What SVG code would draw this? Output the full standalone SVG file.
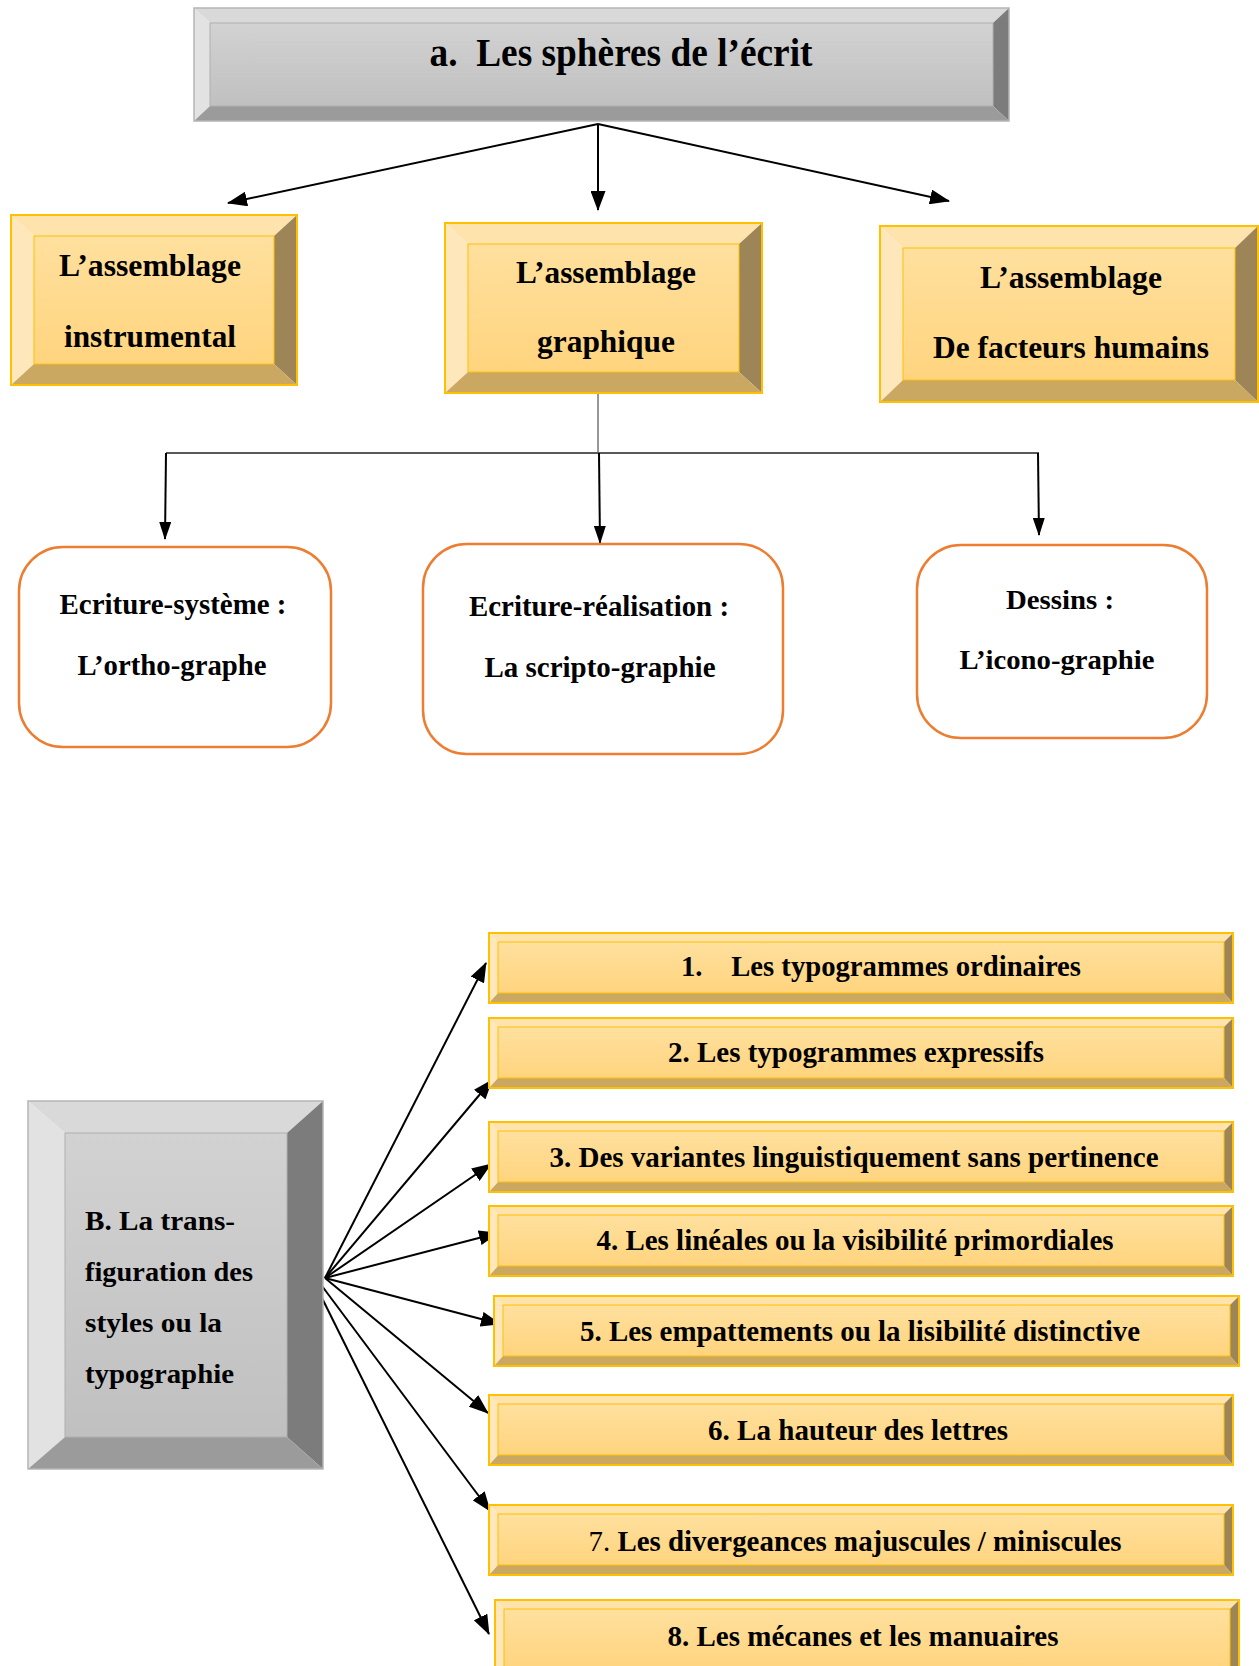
<svg xmlns="http://www.w3.org/2000/svg" width="1259" height="1666" viewBox="0 0 1259 1666">
<style>
text{font-family:"Liberation Serif","Times New Roman",serif;font-weight:bold;fill:#000}
.t{text-anchor:middle}
.gface{fill:url(#gGold);stroke:#FFC000;stroke-width:1}
.gtop{fill:#FFE3AC}
.gleft{fill:#FFE7BC}
.gright{fill:#9E8557}
.gbot{fill:#CBA861}
.gout{fill:none;stroke:#FFC000;stroke-width:2}
.sface{fill:url(#gGray);stroke:#B0B0B0;stroke-width:1}
.stop{fill:#D9D9D9}
.sleft{fill:#E2E2E2}
.sright{fill:#7C7C7C}
.sbot{fill:#9B9B9B}
.sout{fill:none;stroke:#B5B5B5;stroke-width:1.5}
.rb{fill:#fff;stroke:#ED7D31;stroke-width:2.5}
.ar{stroke:#000;stroke-width:2;fill:none;marker-end:url(#ah)}
.arv{stroke:#000;stroke-width:2;fill:none;marker-end:url(#ahv)}
</style>
<defs>
<linearGradient id="gGold" x1="0" y1="0" x2="0" y2="1"><stop offset="0" stop-color="#FFE09E"/><stop offset="1" stop-color="#FFD47E"/></linearGradient>
<linearGradient id="gGray" x1="0" y1="0" x2="0" y2="1"><stop offset="0" stop-color="#D2D2D2"/><stop offset="1" stop-color="#C0C0C0"/></linearGradient>
<marker id="ah" markerUnits="userSpaceOnUse" markerWidth="20" markerHeight="15" refX="19" refY="7.5" orient="auto"><path d="M0,0 L20,7.5 L0,15 Z" fill="#000"/></marker>
<marker id="ahv" markerUnits="userSpaceOnUse" markerWidth="18" markerHeight="12" refX="17" refY="6" orient="auto"><path d="M0,0 L18,6 L0,12 Z" fill="#000"/></marker>
</defs>

<g id="connectors">
<line class="ar" x1="598" y1="124" x2="228" y2="203"/>
<line class="ar" x1="598" y1="124" x2="598" y2="210"/>
<line class="ar" x1="598" y1="124" x2="949" y2="201"/>
<line x1="598" y1="393" x2="598" y2="453" stroke="#333" stroke-width="1"/>
<line x1="166" y1="453" x2="1039" y2="453" stroke="#595959" stroke-width="2"/>
<line class="arv" x1="166" y1="453" x2="165" y2="539"/>
<line class="arv" x1="599" y1="453" x2="600" y2="543"/>
<line class="arv" x1="1038" y1="453" x2="1039" y2="535"/>
<line class="ar" x1="325" y1="1278" x2="486" y2="963"/>
<line class="ar" x1="325" y1="1278" x2="492" y2="1080"/>
<line class="ar" x1="325" y1="1278" x2="491" y2="1164"/>
<line class="ar" x1="325" y1="1278" x2="498" y2="1233"/>
<line class="ar" x1="325" y1="1278" x2="500" y2="1324"/>
<line class="ar" x1="325" y1="1278" x2="488" y2="1413"/>
<line class="ar" x1="322" y1="1286" x2="490" y2="1511"/>
<line class="ar" x1="318" y1="1290" x2="489" y2="1634"/>
</g>

<g id="title">
<polygon class="stop" points="194,8 1009,8 993,23 210,23"/>
<polygon class="sleft" points="194,8 210,23 210,106 194,121"/>
<polygon class="sright" points="1009,8 1009,121 993,106 993,23"/>
<polygon class="sbot" points="194,121 210,106 993,106 1009,121"/>
<rect class="sface" x="210" y="23" width="783" height="83"/>
<rect class="sout" x="194" y="8" width="815" height="113"/>
<text class="t" x="621" y="66" font-size="40" textLength="383" lengthAdjust="spacingAndGlyphs">a.&#160; Les sphères de l’écrit</text>
</g>

<g id="box-instrumental">
<polygon class="gtop" points="11,215 297,215 274,236 34,236"/>
<polygon class="gleft" points="11,215 34,236 34,364 11,385"/>
<polygon class="gright" points="297,215 297,385 274,364 274,236"/>
<polygon class="gbot" points="11,385 34,364 274,364 297,385"/>
<rect class="gface" x="34" y="236" width="240" height="128"/>
<rect class="gout" x="11" y="215" width="286" height="170"/>
<text class="t" x="150" y="276" font-size="31" textLength="182" lengthAdjust="spacingAndGlyphs">L’assemblage</text>
<text class="t" x="150" y="347" font-size="31" textLength="172" lengthAdjust="spacingAndGlyphs">instrumental</text>
</g>

<g id="box-graphique">
<polygon class="gtop" points="445,223 762,223 739,244 468,244"/>
<polygon class="gleft" points="445,223 468,244 468,372 445,393"/>
<polygon class="gright" points="762,223 762,393 739,372 739,244"/>
<polygon class="gbot" points="445,393 468,372 739,372 762,393"/>
<rect class="gface" x="468" y="244" width="271" height="128"/>
<rect class="gout" x="445" y="223" width="317" height="170"/>
<text class="t" x="606" y="283" font-size="31" textLength="180" lengthAdjust="spacingAndGlyphs">L’assemblage</text>
<text class="t" x="606" y="352" font-size="31" textLength="138" lengthAdjust="spacingAndGlyphs">graphique</text>
</g>

<g id="box-humains">
<polygon class="gtop" points="880,226 1258,226 1235,248 903,248"/>
<polygon class="gleft" points="880,226 903,248 903,380 880,402"/>
<polygon class="gright" points="1258,226 1258,402 1235,380 1235,248"/>
<polygon class="gbot" points="880,402 903,380 1235,380 1258,402"/>
<rect class="gface" x="903" y="248" width="332" height="132"/>
<rect class="gout" x="880" y="226" width="378" height="176"/>
<text class="t" x="1071" y="288" font-size="31" textLength="182" lengthAdjust="spacingAndGlyphs">L’assemblage</text>
<text class="t" x="1071" y="358" font-size="31" textLength="276" lengthAdjust="spacingAndGlyphs">De facteurs humains</text>
</g>

<g id="box-orthographe">
<rect class="rb" x="19" y="547" width="312" height="200" rx="44" ry="44"/>
<text class="t" x="173" y="614" font-size="29" textLength="227" lengthAdjust="spacingAndGlyphs">Ecriture-système :</text>
<text class="t" x="172" y="675" font-size="29" textLength="189" lengthAdjust="spacingAndGlyphs">L’ortho-graphe</text>
</g>

<g id="box-scriptographie">
<rect class="rb" x="423" y="544" width="360" height="210" rx="44" ry="44"/>
<text class="t" x="599" y="616" font-size="29" textLength="260" lengthAdjust="spacingAndGlyphs">Ecriture-réalisation :</text>
<text class="t" x="600" y="677" font-size="29" textLength="231" lengthAdjust="spacingAndGlyphs">La scripto-graphie</text>
</g>

<g id="box-iconographie">
<rect class="rb" x="917" y="545" width="290" height="193" rx="44" ry="44"/>
<text class="t" x="1060" y="609" font-size="28" textLength="108" lengthAdjust="spacingAndGlyphs">Dessins :</text>
<text class="t" x="1057" y="669" font-size="28" textLength="195" lengthAdjust="spacingAndGlyphs">L’icono-graphie</text>
</g>

<g id="box-typographie">
<polygon class="stop" points="28,1101 323,1101 287,1133 65,1133"/>
<polygon class="sleft" points="28,1101 65,1133 65,1437 28,1469"/>
<polygon class="sright" points="323,1101 323,1469 287,1437 287,1133"/>
<polygon class="sbot" points="28,1469 65,1437 287,1437 323,1469"/>
<rect class="sface" x="65" y="1133" width="222" height="304"/>
<rect class="sout" x="28" y="1101" width="295" height="368"/>
<text x="85" y="1230" font-size="28" textLength="150" lengthAdjust="spacingAndGlyphs">B. La trans-</text>
<text x="85" y="1281" font-size="28" textLength="168" lengthAdjust="spacingAndGlyphs">figuration des</text>
<text x="85" y="1332" font-size="28" textLength="137" lengthAdjust="spacingAndGlyphs">styles ou la</text>
<text x="85" y="1383" font-size="28" textLength="149" lengthAdjust="spacingAndGlyphs">typographie</text>
</g>

<g id="item-1">
<polygon class="gtop" points="489,933 1233,933 1224,942 498,942"/>
<polygon class="gleft" points="489,933 498,942 498,993 489,1003"/>
<polygon class="gright" points="1233,933 1233,1003 1224,993 1224,942"/>
<polygon class="gbot" points="489,1003 498,993 1224,993 1233,1003"/>
<rect class="gface" x="498" y="942" width="726" height="51"/>
<rect class="gout" x="489" y="933" width="744" height="70"/>
<text class="t" x="881" y="976" font-size="30" textLength="400" lengthAdjust="spacingAndGlyphs">1.&#160;&#160;&#160; Les typogrammes ordinaires</text>
</g>

<g id="item-2">
<polygon class="gtop" points="489,1018 1233,1018 1224,1027 498,1027"/>
<polygon class="gleft" points="489,1018 498,1027 498,1078 489,1088"/>
<polygon class="gright" points="1233,1018 1233,1088 1224,1078 1224,1027"/>
<polygon class="gbot" points="489,1088 498,1078 1224,1078 1233,1088"/>
<rect class="gface" x="498" y="1027" width="726" height="51"/>
<rect class="gout" x="489" y="1018" width="744" height="70"/>
<text class="t" x="856" y="1062" font-size="30" textLength="376" lengthAdjust="spacingAndGlyphs">2. Les typogrammes expressifs</text>
</g>

<g id="item-3">
<polygon class="gtop" points="489,1122 1233,1122 1224,1131 498,1131"/>
<polygon class="gleft" points="489,1122 498,1131 498,1182 489,1192"/>
<polygon class="gright" points="1233,1122 1233,1192 1224,1182 1224,1131"/>
<polygon class="gbot" points="489,1192 498,1182 1224,1182 1233,1192"/>
<rect class="gface" x="498" y="1131" width="726" height="51"/>
<rect class="gout" x="489" y="1122" width="744" height="70"/>
<text class="t" x="854" y="1167" font-size="30" textLength="609" lengthAdjust="spacingAndGlyphs">3. Des variantes linguistiquement sans pertinence</text>
</g>

<g id="item-4">
<polygon class="gtop" points="489,1206 1233,1206 1224,1215 498,1215"/>
<polygon class="gleft" points="489,1206 498,1215 498,1266 489,1276"/>
<polygon class="gright" points="1233,1206 1233,1276 1224,1266 1224,1215"/>
<polygon class="gbot" points="489,1276 498,1266 1224,1266 1233,1276"/>
<rect class="gface" x="498" y="1215" width="726" height="51"/>
<rect class="gout" x="489" y="1206" width="744" height="70"/>
<text class="t" x="855" y="1250" font-size="30" textLength="517" lengthAdjust="spacingAndGlyphs">4. Les linéales ou la visibilité primordiales</text>
</g>

<g id="item-5">
<polygon class="gtop" points="494,1296 1239,1296 1230,1305 503,1305"/>
<polygon class="gleft" points="494,1296 503,1305 503,1356 494,1366"/>
<polygon class="gright" points="1239,1296 1239,1366 1230,1356 1230,1305"/>
<polygon class="gbot" points="494,1366 503,1356 1230,1356 1239,1366"/>
<rect class="gface" x="503" y="1305" width="727" height="51"/>
<rect class="gout" x="494" y="1296" width="745" height="70"/>
<text class="t" x="860" y="1341" font-size="30" textLength="560" lengthAdjust="spacingAndGlyphs">5. Les empattements ou la lisibilité distinctive</text>
</g>

<g id="item-6">
<polygon class="gtop" points="489,1395 1233,1395 1224,1404 498,1404"/>
<polygon class="gleft" points="489,1395 498,1404 498,1455 489,1465"/>
<polygon class="gright" points="1233,1395 1233,1465 1224,1455 1224,1404"/>
<polygon class="gbot" points="489,1465 498,1455 1224,1455 1233,1465"/>
<rect class="gface" x="498" y="1404" width="726" height="51"/>
<rect class="gout" x="489" y="1395" width="744" height="70"/>
<text class="t" x="858" y="1440" font-size="30" textLength="300" lengthAdjust="spacingAndGlyphs">6. La hauteur des lettres</text>
</g>

<g id="item-7">
<polygon class="gtop" points="489,1505 1233,1505 1224,1514 498,1514"/>
<polygon class="gleft" points="489,1505 498,1514 498,1565 489,1575"/>
<polygon class="gright" points="1233,1505 1233,1575 1224,1565 1224,1514"/>
<polygon class="gbot" points="489,1575 498,1565 1224,1565 1233,1575"/>
<rect class="gface" x="498" y="1514" width="726" height="51"/>
<rect class="gout" x="489" y="1505" width="744" height="70"/>
<text class="t" x="855" y="1551" font-size="30" textLength="533" lengthAdjust="spacingAndGlyphs"><tspan font-weight="normal">7.</tspan> Les divergeances majuscules / miniscules</text>
</g>

<g id="item-8">
<polygon class="gtop" points="495,1600 1239,1600 1230,1609 504,1609"/>
<polygon class="gleft" points="495,1600 504,1609 504,1670 495,1680"/>
<polygon class="gright" points="1239,1600 1239,1680 1230,1670 1230,1609"/>
<rect class="gface" x="504" y="1609" width="726" height="61"/>
<rect class="gout" x="495" y="1600" width="744" height="80"/>
<text class="t" x="863" y="1646" font-size="30" textLength="391" lengthAdjust="spacingAndGlyphs">8. Les mécanes et les manuaires</text>
</g>
</svg>
